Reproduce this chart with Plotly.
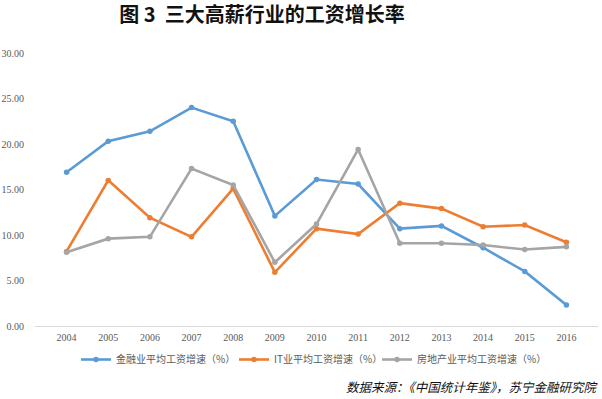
import plotly.graph_objects as go

years = ["2004", "2005", "2006", "2007", "2008", "2009", "2010", "2011",
         "2012", "2013", "2014", "2015", "2016"]
finance = [16.9, 20.3, 21.4, 24.0, 22.5, 12.1, 16.1, 15.6, 10.7, 11.0, 8.6, 6.0, 2.3]
it = [8.2, 16.0, 11.9, 9.8, 15.1, 5.9, 10.7, 10.1, 13.5, 12.9, 10.9, 11.1, 9.2]
realestate = [8.1, 9.6, 9.8, 17.3, 15.5, 7.0, 11.2, 19.4, 9.1, 9.1, 8.9, 8.4, 8.7]

names = ["金融业平均工资增速（%）", "IT业平均工资增速（%）", "房地产业平均工资增速（%）"]
colors = ["#5B9BD5", "#ED7D31", "#A5A5A5"]
series = [finance, it, realestate]

title_text = "图 3  三大高薪行业的工资增长率"
source_text = "数据来源：《中国统计年鉴》，苏宁金融研究院"
y_ticks = [0, 5, 10, 15, 20, 25, 30]

legend_ids = ["legend", "legend2", "legend3"]
legend_left_px = [76, 234, 377]

fig = go.Figure()
for name, vals, c, lid in zip(names, series, colors, legend_ids):
    fig.add_trace(go.Scatter(
        x=years, y=vals, name=name, mode="lines+markers",
        line=dict(color=c, width=2.6),
        marker=dict(color=c, size=5.5, symbol="circle"),
        legend=lid,
    ))

legend_common = dict(orientation="h", xanchor="left", xref="container",
                     y=1 - 345 / 399, yanchor="top", yref="container",
                     font=dict(family="Noto Sans CJK SC", size=10, color="#595959"),
                     itemwidth=30, bgcolor="rgba(0,0,0,0)")

fig.update_layout(
    width=602, height=399,
    paper_bgcolor="white", plot_bgcolor="white",
    margin=dict(l=35, r=4, t=53, b=73, autoexpand=False),
    title=dict(text=title_text, x=262 / 602, xanchor="center", xref="container",
               y=1 - 15 / 399, yanchor="middle", yref="container",
               font=dict(family="Noto Sans CJK SC", size=20, color="#111111", weight="bold")),
    showlegend=True,
    legend=dict(x=legend_left_px[0] / 602, **legend_common),
    legend2=dict(x=legend_left_px[1] / 602, **legend_common),
    legend3=dict(x=legend_left_px[2] / 602, **legend_common),
    annotations=[dict(text=source_text, xref="paper", yref="paper",
                      x=1.0, xanchor="right", xshift=3, y=(326 - 386) / 273, yanchor="middle",
                      showarrow=False,
                      font=dict(family="Noto Sans CJK SC", size=12.5, color="#111111", style="italic"))],
)

fig.update_xaxes(
    type="category", showgrid=False, showline=True, linecolor="#D9D9D9", linewidth=1,
    ticks="", tickfont=dict(family="Liberation Serif", size=10, color="#595959"),
    ticklabelstandoff=2, automargin=False,
)
fig.update_yaxes(
    range=[0, 30], tickvals=y_ticks, tickformat=".2f", showgrid=False, zeroline=False,
    showline=False, ticks="",
    tickfont=dict(family="Liberation Serif", size=10, color="#595959"),
    ticklabelstandoff=10, automargin=False,
)

fig.write_html("out.html", config={"displayModeBar": False},
               post_script="document.body.style.margin='0px';document.body.style.overflow='hidden';")
